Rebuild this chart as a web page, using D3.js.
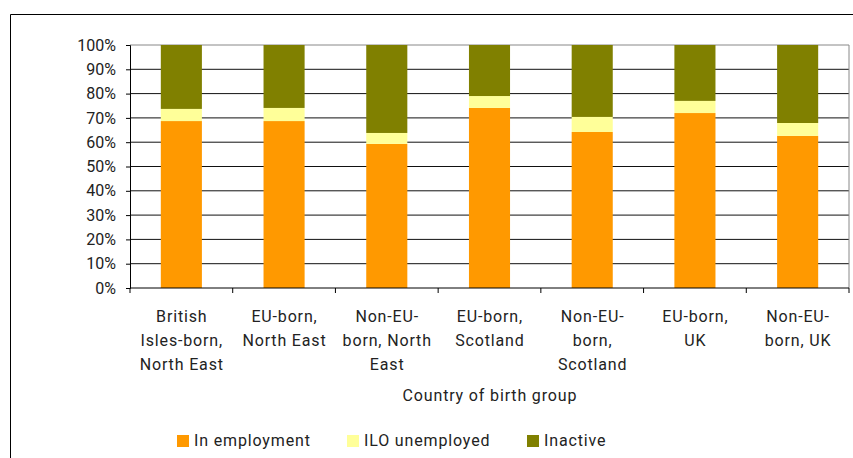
<!DOCTYPE html>
<html>
<head>
<meta charset="utf-8">
<script src="https://cdn.jsdelivr.net/npm/d3@7"></script>
<style>
  html, body { margin: 0; padding: 0; background: #fff; }
  svg { display: block; font-family: Roboto, "DejaVu Sans", sans-serif; }
</style>
</head>
<body>
<svg id="chart" width="853" height="458"></svg>
<script>
// Country-of-birth groups (each label split into its wrapped lines)
const categories = [
  ["British", "Isles-born,", "North East"],
  ["EU-born,", "North East"],
  ["Non-EU-", "born, North", "East"],
  ["EU-born,", "Scotland"],
  ["Non-EU-", "born,", "Scotland"],
  ["EU-born,", "UK"],
  ["Non-EU-", "born, UK"]
];

// Shares of each group, in percent
const inEmployment  = [68.7, 68.7, 59.3, 74.1, 64.2, 72.0, 62.6];
const iloUnemployed = [5.0, 5.4, 4.5, 4.9, 6.2, 5.0, 5.3];
const inactive      = [26.3, 25.9, 36.2, 21.0, 29.6, 23.0, 32.1];

const seriesNames  = ["In employment", "ILO unemployed", "Inactive"];
const seriesColors = ["#FF9900", "#FFFF99", "#808000"];
const yTicks = [0, 10, 20, 30, 40, 50, 60, 70, 80, 90, 100];
const xTitle = "Country of birth group";

const svg = d3.select("#chart");
const W = 853, H = 458;
const plot = { left: 130, right: 849, top: 45, bottom: 288 };
const textSpacing = 0.85;

// outer chart frame (runs off the right and bottom edges)
svg.append("path")
  .attr("d", `M10.5,${H + 2} V14.5 H${W + 2}`)
  .attr("fill", "none").attr("stroke", "#000").attr("stroke-width", 1);

const idx = d3.range(categories.length);
const x = d3.scaleBand().domain(idx).range([plot.left, plot.right]).paddingInner(0).paddingOuter(0);
const y = d3.scaleLinear().domain([0, 100]).range([plot.bottom, plot.top]);

// horizontal gridlines
svg.append("g").selectAll("line").data(yTicks.filter(t => t > 0 && t < 100)).join("line")
  .attr("x1", plot.left).attr("x2", plot.right)
  .attr("y1", d => y(d)).attr("y2", d => y(d))
  .attr("stroke", "#111").attr("stroke-width", 1);

// plot-area border (top and right)
svg.append("path")
  .attr("d", `M${plot.left},${y(100)} H${plot.right} V${plot.bottom}`)
  .attr("fill", "none").attr("stroke", "#888").attr("stroke-width", 1);

// stacked bars
const table = idx.map(i => ({ i, e: inEmployment[i], u: iloUnemployed[i], n: inactive[i] }));
const stack = d3.stack().keys(["e", "u", "n"])(table);
const barW = x.bandwidth() * 0.4;

svg.append("g").selectAll("g").data(stack).join("g")
  .attr("fill", (d, k) => seriesColors[k])
  .selectAll("rect").data(d => d).join("rect")
  .attr("x", d => x(d.data.i) + (x.bandwidth() - barW) / 2)
  .attr("width", barW)
  .attr("y", d => y(d[1]))
  .attr("height", d => y(d[0]) - y(d[1]));

// y axis
const yAxis = d3.axisLeft(y).tickValues(yTicks).tickFormat(d => d + "%").tickSize(4).tickPadding(10);
const gy = svg.append("g").attr("transform", `translate(${plot.left},0)`).call(yAxis);
gy.select(".domain").attr("stroke", "#000");
gy.selectAll(".tick line").attr("stroke", "#000");
gy.selectAll("text").attr("font-size", 16).attr("fill", "#222").attr("font-family", "Roboto, sans-serif");

// x axis line and category boundary ticks
svg.append("line")
  .attr("x1", plot.left).attr("x2", plot.right)
  .attr("y1", plot.bottom).attr("y2", plot.bottom)
  .attr("stroke", "#000");
const bounds = idx.map(i => x(i)).concat([plot.right]);
svg.append("g").selectAll("line").data(bounds).join("line")
  .attr("x1", d => d).attr("x2", d => d)
  .attr("y1", plot.bottom).attr("y2", plot.bottom + 5)
  .attr("stroke", "#000");

// category labels
const lab = svg.append("g").attr("font-size", 16).attr("fill", "#222")
  .attr("text-anchor", "middle").attr("letter-spacing", textSpacing);
categories.forEach((lines, i) => {
  const cx = x(i) + x.bandwidth() / 2 + textSpacing / 2;
  const t = lab.append("text").attr("x", cx).attr("y", 322);
  lines.forEach((ln, j) => t.append("tspan").attr("x", cx).attr("dy", j ? 24 : 0).text(ln));
});

// axis title
svg.append("text").attr("x", (plot.left + plot.right) / 2 + textSpacing / 2).attr("y", 401)
  .attr("text-anchor", "middle").attr("font-size", 16).attr("fill", "#222")
  .attr("letter-spacing", textSpacing).text(xTitle);

// legend
const legendX = [177, 347, 527];
const lg = svg.append("g");
seriesNames.forEach((name, k) => {
  lg.append("rect").attr("x", legendX[k]).attr("y", 435).attr("width", 12).attr("height", 12).attr("fill", seriesColors[k]);
  lg.append("text").attr("x", legendX[k] + 17).attr("y", 446).attr("font-size", 16).attr("fill", "#222")
    .attr("letter-spacing", textSpacing).text(name);
});
</script>
</body>
</html>
